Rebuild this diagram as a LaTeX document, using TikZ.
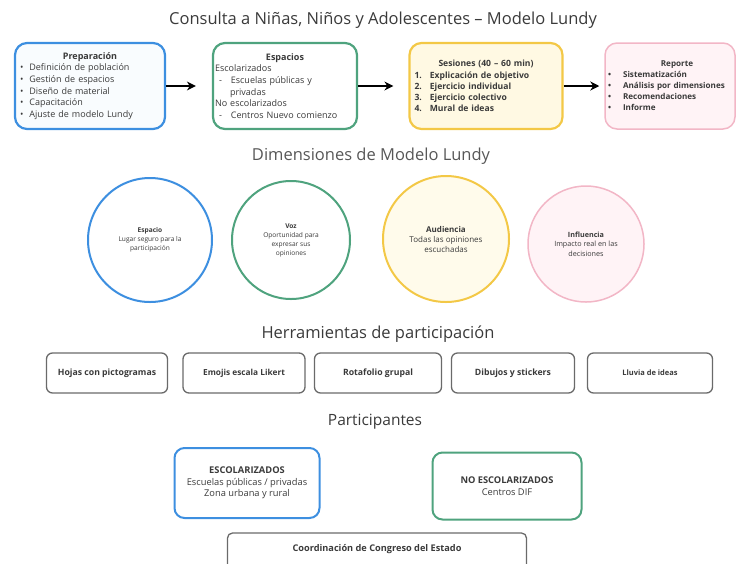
\documentclass[tikz,border=0pt]{standalone}
\usepackage{fontspec}
\setmainfont{Open Sans}
\usetikzlibrary{arrows.meta}
\definecolor{azul}{HTML}{3D8FE0}
\definecolor{verde}{HTML}{4FA37E}
\definecolor{amarillo}{HTML}{F3C846}
\definecolor{amarillofondo}{HTML}{FFF9E3}
\definecolor{rosa}{HTML}{F2B6C6}
\definecolor{rosafondo}{HTML}{FFF3F6}
\definecolor{gris}{HTML}{6A6A6A}
\definecolor{texto}{HTML}{3A3A3A}

\begin{document}
\begin{tikzpicture}[x=1pt,y=-1pt,
		etapa/.style={rectangle,rounded corners=12pt,line width=2.2pt,minimum height=86pt,inner sep=5pt,align=left,text=texto,font=\fontsize{9}{11.6}\selectfont},
		dimension/.style={circle,line width=2pt,minimum size=124pt,inner sep=0pt,align=center,text=texto,font=\fontsize{6.6}{9}\selectfont},
		herramienta/.style={rectangle,draw=gris,rounded corners=6pt,line width=1.3pt,minimum height=40pt,inner sep=0pt,text=texto,font=\bfseries\fontsize{8.7}{10}\selectfont},
		grupo/.style={rectangle,rounded corners=10pt,line width=2pt,inner sep=0pt,align=center,text=texto,font=\fontsize{9.3}{11.5}\selectfont},
		titulo/.style={text=texto,font=\fontsize{16.5}{19}\selectfont},
		flecha/.style={-{Stealth[length=9pt,width=9pt]},line width=2.4pt}]
	\useasboundingbox (0,0) rectangle (738,563);
	\clip (0,0) rectangle (738,563);

	\node[titulo] (T1) at (383,20) {Consulta a Niñas, Niños y Adolescentes – Modelo Lundy};
	\node[etapa,draw=azul,fill=azul!3,minimum width=150pt,text width=140pt] (B1) at (90,86) {\makebox[\linewidth]{\textbf{Preparación}}\\
		\textbullet\hspace{6pt}Definición de población\\
		\textbullet\hspace{6pt}Gestión de espacios\\
		\textbullet\hspace{6pt}Diseño de material\\
		\textbullet\hspace{6pt}Capacitación\\
		\textbullet\hspace{6pt}Ajuste de modelo Lundy};
	\node[etapa,draw=verde,fill=white,minimum width=144pt,text width=140pt,inner sep=2pt] (B2) at (285,86) {\makebox[\linewidth]{\textbf{Espacios}}\\
		Escolarizados\\
		\hspace{4pt}-\hspace{9pt}Escuelas públicas y\\
		\hspace{15pt}privadas\\
		No escolarizados\\
		\hspace{4pt}-\hspace{9pt}Centros Nuevo comienzo};
	\node[etapa,draw=amarillo,fill=amarillofondo,minimum width=153pt,text width=143pt,font=\bfseries\fontsize{8.6}{11.2}\selectfont] (B3) at (486,86) {\makebox[\linewidth]{Sesiones (40 – 60 min)}\\
		1.\hspace{8pt}Explicación de objetivo\\
		2.\hspace{8pt}Ejercicio individual\\
		3.\hspace{8pt}Ejercicio colectivo\\
		4.\hspace{8pt}Mural de ideas};
	\node[etapa,draw=rosa,line width=1.5pt,fill=rosafondo,minimum width=130pt,text width=124pt,inner sep=3pt,font=\bfseries\fontsize{8.1}{11}\selectfont] (B4) at (670,86) {\makebox[\linewidth]{\hspace{14pt}Reporte}\\
		\textbullet\hspace{12pt}Sistematización\\
		\textbullet\hspace{12pt}Análisis por dimensiones\\
		\textbullet\hspace{12pt}Recomendaciones\\
		\textbullet\hspace{12pt}Informe};
	\draw[flecha,shorten >=16pt] (B1) -- (B2);
	\draw[flecha,shorten >=15pt] (B2) -- (B3);
	\draw[flecha,shorten >=5pt] (B3) -- (B4);

	\node[titulo,text=texto!85] (T2) at (371,156) {Dimensiones de Modelo Lundy};
	\node[dimension,draw=azul,fill=white] (D1) at (150,240) {\textbf{Espacio}\\Lugar seguro para la\\participación};
	\node[dimension,draw=verde,fill=white,minimum size=118pt] (D2) at (291,240) {\textbf{Voz}\\Oportunidad para\\expresar sus\\opiniones};
	\node[dimension,draw=amarillo,fill=amarillofondo!70,minimum size=126pt,font=\fontsize{8}{10}\selectfont] (D3) at (446,239) {\textbf{Audiencia}\\Todas las opiniones\\escuchadas};
	\node[dimension,draw=rosa,fill=rosafondo,line width=1.5pt,minimum size=116pt,font=\fontsize{7.2}{9.5}\selectfont] (D4) at (586,244) {\textbf{Influencia}\\Impacto real en las\\decisiones};

	\node[titulo] (T3) at (378,334) {Herramientas de participación};
	\node[herramienta,minimum width=121pt] (H1) at (107,373) {Hojas con pictogramas};
	\node[herramienta,minimum width=122pt,font=\bfseries\fontsize{8.3}{10}\selectfont] (H2) at (244,373) {Emojis escala Likert};
	\node[herramienta,minimum width=127pt] (H3) at (378,373) {Rotafolio grupal};
	\node[herramienta,minimum width=123pt] (H4) at (513,373) {Dibujos y stickers};
	\node[herramienta,minimum width=125pt,font=\bfseries\fontsize{7.5}{9}\selectfont] (H5) at (650,373) {Lluvia de ideas};

	\node[titulo,font=\fontsize{15.5}{18}\selectfont] (T4) at (375,422) {Participantes};
	\node[grupo,draw=azul,minimum width=145pt,minimum height=70pt] (P1) at (247,483) {\textbf{ESCOLARIZADOS}\\Escuelas públicas / privadas\\Zona urbana y rural};
	\node[grupo,draw=verde,minimum width=149pt,minimum height=67pt] (P2) at (507,486) {\textbf{NO ESCOLARIZADOS}\\Centros DIF};
	\node[grupo,draw=gris,line width=1.3pt,rounded corners=5pt,minimum width=299pt,minimum height=40pt,font=\bfseries\fontsize{9.2}{10}\selectfont] (P3) at (377,553) {\raisebox{10pt}{Coordinación de Congreso del Estado}};
\end{tikzpicture}
\end{document}
